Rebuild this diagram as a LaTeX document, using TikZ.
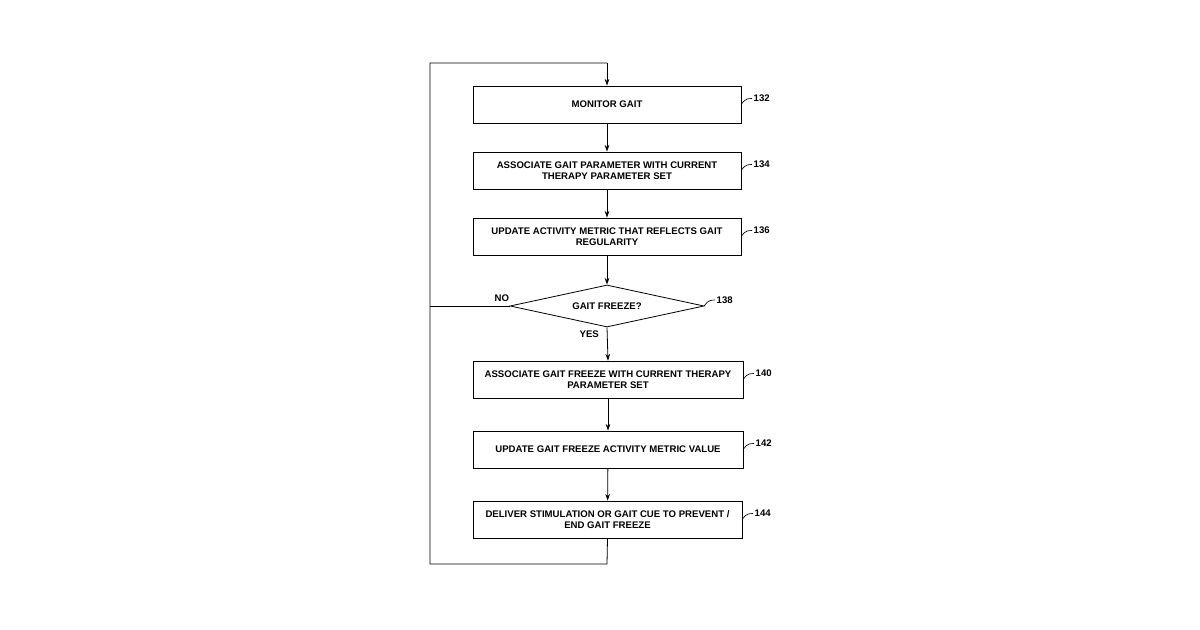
\documentclass[tikz,border=0pt]{standalone}
\usepackage{fontspec}
\setmainfont{Liberation Sans}
\usetikzlibrary{shapes.geometric,arrows.meta}
\begin{document}
\begin{tikzpicture}[x=0.75pt,y=-0.75pt,
  box/.style={draw,line width=0.6pt,minimum height=27.75pt,inner sep=0pt,align=center,font=\bfseries\fontsize{7.2}{8.6}\selectfont},
  lbl/.style={font=\bfseries\fontsize{7.2}{8.6}\selectfont,anchor=west,inner sep=1pt},
  arr/.style={draw,line width=0.6pt,-{Stealth[length=5pt,width=3.5pt]}},
  ln/.style={draw,line width=0.6pt}]
\useasboundingbox (0,0) rectangle (1200,630);
\node[box,minimum width=201pt] (b132) at (607,104.5) {MONITOR GAIT};
\node[box,minimum width=201pt] (b134) at (607,170.5) {ASSOCIATE GAIT PARAMETER WITH CURRENT\\THERAPY PARAMETER SET};
\node[box,minimum width=201pt] (b136) at (607,236.5) {UPDATE ACTIVITY METRIC THAT REFLECTS GAIT\\REGULARITY};
\node[draw,line width=0.6pt,diamond,aspect=4.6,minimum width=145.5pt,minimum height=31.5pt,inner sep=0pt,font=\bfseries\fontsize{7.2}{8.6}\selectfont] (d138) at (607,306) {GAIT FREEZE?};
\node[box,minimum width=202.5pt] (b140) at (608,379.5) {ASSOCIATE GAIT FREEZE WITH CURRENT THERAPY\\PARAMETER SET};
\node[box,minimum width=202.5pt] (b142) at (608,449.5) {UPDATE GAIT FREEZE ACTIVITY METRIC VALUE};
\node[box,minimum width=201.75pt] (b144) at (607.5,519.5) {DELIVER STIMULATION OR GAIT CUE TO PREVENT /\\END GAIT FREEZE};
\coordinate (c1) at (607,564);
\coordinate (c2) at (430,564);
\coordinate (c3) at (430,63);
\coordinate (c4) at (607,63);
\coordinate (cn) at (430,306);
\draw[arr] (b132) -- (b134);
\draw[arr] (b134) -- (b136);
\draw[arr] (b136) -- (d138);
\draw[arr] (d138.south) -- (b140.north);
\draw[arr] (b140) -- (b142);
\draw[arr] (b142) -- (b144);
\draw[ln] (b144.south) -- (c1) -- (c2) -- (c3) -- (c4);
\draw[arr] (c4) -- (b132.north);
\draw[ln] (d138.west) -- (cn);
\node[lbl] (no) at (493,298) {NO};
\node[lbl] (yes) at (578,334) {YES};
\foreach \n/\bx/\by in {132/741/104.5,134/741/170.5,136/741/236.5,140/743/379.5,142/743/449.5,144/742/519.5}{
  \coordinate (s\n) at (\bx,\by);
  \draw[line width=0.5pt] (s\n) .. controls (\bx+3,\by-2) and (\bx+2,\by-6) .. (\bx+11,\by-6) node[lbl,anchor=west] (t\n) {\n};
}
\coordinate (s138) at (704,306);
\draw[line width=0.5pt] (s138) .. controls (707,304) and (706,300) .. (715,300) node[lbl,anchor=west] (t138) {138};
\end{tikzpicture}
\end{document}
